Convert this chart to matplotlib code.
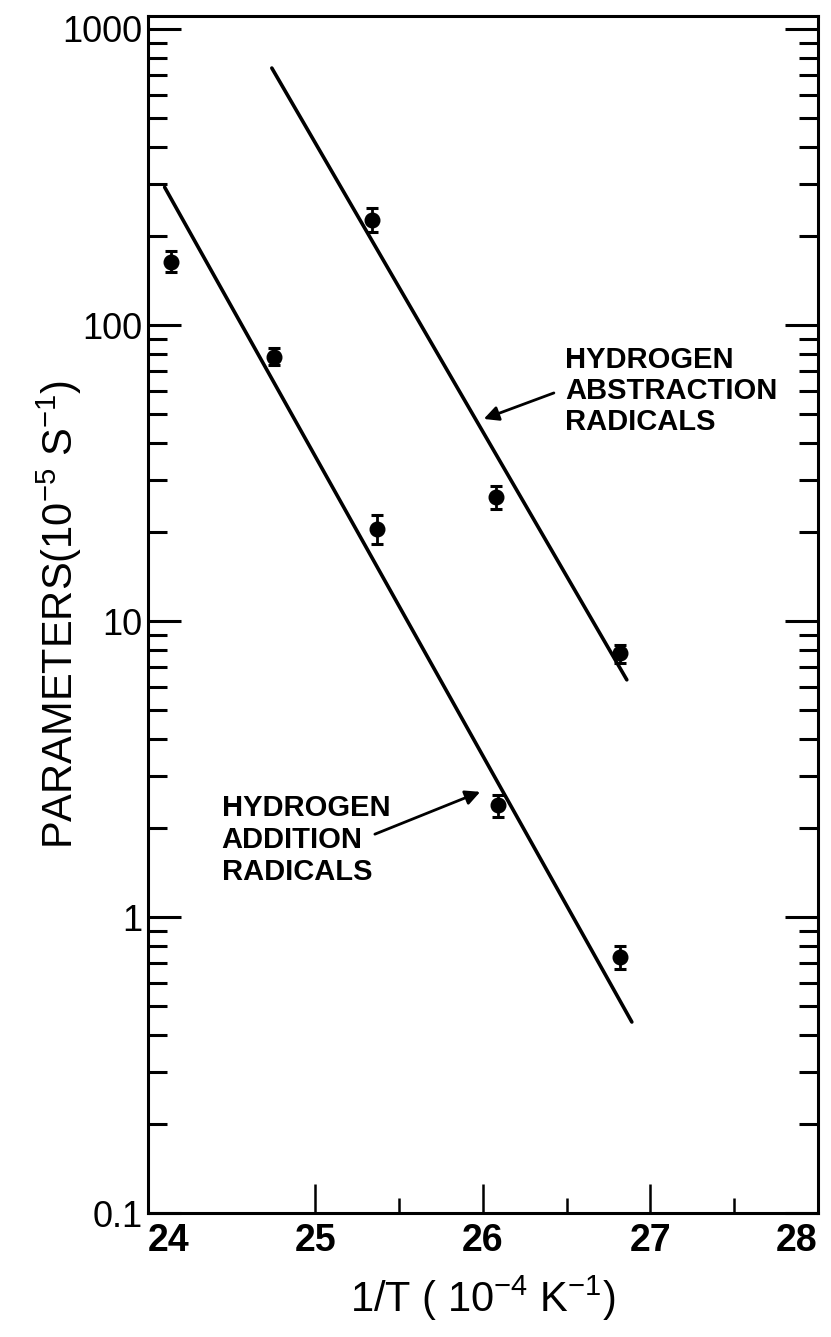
import numpy as np
import matplotlib
matplotlib.use("Agg")
import matplotlib.pyplot as plt
from matplotlib.ticker import FixedLocator, FixedFormatter, LogLocator, NullFormatter

plt.rcParams['font.family'] = ['Liberation Sans', 'DejaVu Sans']
plt.rcParams['mathtext.default'] = 'regular'

# hydrogen addition radicals (lower series)
add_x = [24.14, 24.75, 25.37, 26.09, 26.82]
add_y = [163, 78, 20.5, 2.39, 0.733]
add_lo = [151, 73.3, 18.2, 2.18, 0.67]
add_hi = [178, 83.6, 22.8, 2.58, 0.80]
add_fit_x = [24.10, 26.89]
add_fit_y = [292, 0.442]

# hydrogen abstraction radicals (upper series)
abs_x = [25.34, 26.08, 26.82]
abs_y = [226, 26.2, 7.8]
abs_lo = [206, 23.9, 7.2]
abs_hi = [248, 28.6, 8.3]
abs_fit_x = [24.74, 26.86]
abs_fit_y = [738, 6.33]

x_ticks = [24, 25, 26, 27, 28]
x_tick_labels = ['24', '25', '26', '27', '28']
x_minor = [25.5, 26.5, 27.5]
y_ticks = [0.1, 1, 10, 100, 1000]
y_tick_labels = ['0.1', '1', '10', '100', '1000']

fig = plt.figure(figsize=(8.31, 13.37), dpi=100)
ax = fig.add_axes([0.178, 0.0927, 0.806, 0.8953])
ax.set_yscale('log')
ax.set_xlim(24, 28)
ax.set_ylim(0.1, 1106)

for xs, ys, lo, hi in [(add_x, add_y, add_lo, add_hi), (abs_x, abs_y, abs_lo, abs_hi)]:
    ys = np.array(ys)
    yerr = [ys - np.array(lo), np.array(hi) - ys]
    ax.errorbar(xs, ys, yerr=yerr, fmt='o', color='black', markersize=10.5,
                capsize=4.5, elinewidth=2, capthick=2.2)

ax.plot(add_fit_x, add_fit_y, color='black', lw=2.6, solid_capstyle='round')
ax.plot(abs_fit_x, abs_fit_y, color='black', lw=2.6, solid_capstyle='round')

# labels and arrows
ax.text(26.49, 59.8, 'HYDROGEN\nABSTRACTION\nRADICALS', ha='left', va='center',
        fontsize=21, fontweight='bold', linespacing=1.15)
ax.annotate('', xy=(25.99, 47.8), xytext=(26.44, 59.4),
            arrowprops=dict(arrowstyle='-|>', color='black', lw=2, mutation_scale=22))
ax.text(24.44, 1.82, 'HYDROGEN\nADDITION\nRADICALS', ha='left', va='center',
        fontsize=21, fontweight='bold', linespacing=1.2)
ax.annotate('', xy=(26.0, 2.67), xytext=(25.34, 1.89),
            arrowprops=dict(arrowstyle='-|>', color='black', lw=2, mutation_scale=22))

# axes styling
for s in ax.spines.values():
    s.set_linewidth(2.2)

ax.xaxis.set_major_locator(FixedLocator(x_ticks))
ax.xaxis.set_major_formatter(FixedFormatter(x_tick_labels))
ax.xaxis.set_minor_locator(FixedLocator(x_minor))
ax.yaxis.set_major_locator(FixedLocator(y_ticks))
ax.yaxis.set_major_formatter(FixedFormatter(y_tick_labels))
ax.yaxis.set_minor_locator(LogLocator(base=10, subs=np.arange(2, 10)))
ax.yaxis.set_minor_formatter(NullFormatter())

ax.tick_params(axis='y', which='both', direction='in', left=True, right=True, width=2.2)
ax.tick_params(axis='y', which='major', length=24, labelsize=26, pad=4)
ax.tick_params(axis='y', which='minor', length=14)
ax.tick_params(axis='x', which='both', direction='in', bottom=True, top=False, width=1.8)
ax.tick_params(axis='x', which='major', length=21, labelsize=27, pad=7)
ax.tick_params(axis='x', which='minor', length=11)
xlabels = ax.get_xticklabels()
for lbl in xlabels:
    lbl.set_fontweight('bold')
xlabels[0].set_horizontalalignment('left')
xlabels[-1].set_horizontalalignment('right')

ax.set_xlabel('1/T ( 10$^{-4}$ K$^{-1}$)', fontsize=30, labelpad=11)
ax.set_ylabel('PARAMETERS(10$^{-5}$ S$^{-1}$)', fontsize=30, labelpad=-16)

fig.savefig('out.png', dpi=100)
